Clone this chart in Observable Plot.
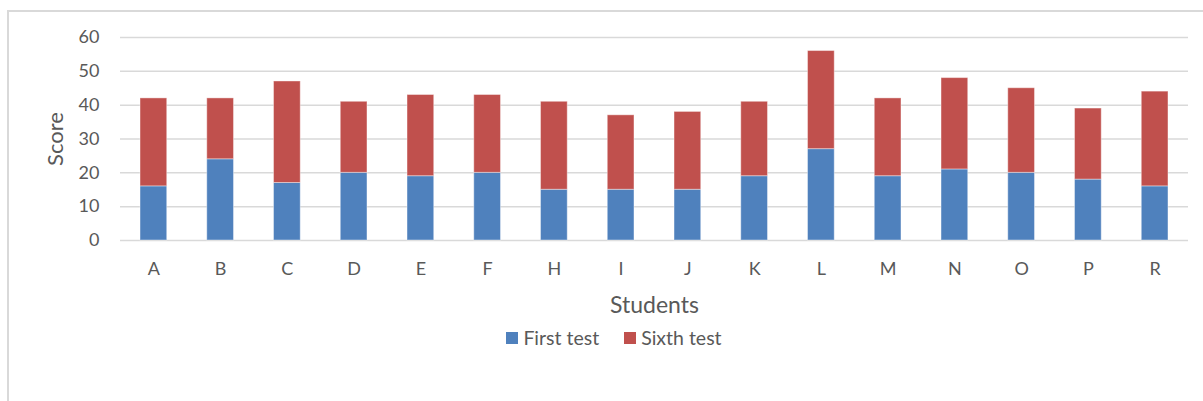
<!DOCTYPE html>
<html>
<head>
<meta charset="utf-8">
<script src="https://cdn.jsdelivr.net/npm/d3@7"></script>
<script src="https://cdn.jsdelivr.net/npm/@observablehq/plot@0.6"></script>
<style>
  html, body { margin: 0; padding: 0; background: #fff; overflow: hidden; }
  #wrap { position: relative; width: 1203px; height: 401px; }
  #frame { position: absolute; left: 7px; top: 10px; width: 1220px; height: 420px; border: 2px solid #d9d9d9; box-sizing: border-box; }
  #chart { position: absolute; left: 0; top: 0; }
  #legend { position: absolute; top: 326px; left: 0; width: 1203px; display: flex; justify-content: center; gap: 25px; font-family: Lato, "Open Sans", sans-serif; font-size: 19.5px; color: #595959; padding-left: 25px; box-sizing: border-box; }
  .item { display: flex; align-items: center; gap: 5px; }
  .sw { width: 12px; height: 12px; display: inline-block; }
</style>
</head>
<body>
<div id="wrap">
  <div id="frame"></div>
  <div id="chart"></div>
  <div id="legend"></div>
</div>
<script>
const students = ["A","B","C","D","E","F","H","I","J","K","L","M","N","O","P","R"];
const firstTest = [16,24,17,20,19,20,15,15,15,19,27,19,21,20,18,16];
const sixthTest = [26,18,30,21,24,23,26,22,23,22,29,23,27,25,21,28];
const seriesNames = ["First test","Sixth test"];
const seriesColors = ["#4F81BD","#C0504D"];
const yTicks = [0,10,20,30,40,50,60];

const rows = [];
students.forEach((s, i) => {
  rows.push({student: s, series: seriesNames[0], value: firstTest[i]});
  rows.push({student: s, series: seriesNames[1], value: sixthTest[i]});
});

const chart = Plot.plot({
  width: 1203,
  height: 401,
  marginLeft: 120,
  marginRight: 15,
  marginTop: 37,
  marginBottom: 161,
  style: { fontFamily: "Lato, 'Open Sans', sans-serif", color: "#595959", background: "transparent" },
  x: { domain: students, paddingInner: 0.6, paddingOuter: 0.3, round: false },
  y: { domain: [0, 60] },
  color: { domain: seriesNames, range: seriesColors },
  marks: [
    Plot.gridY(yTicks, { stroke: "#d9d9d9", strokeOpacity: 1, strokeWidth: 1.5 }),
    Plot.barY(rows, { x: "student", y: "value", fill: "series", stroke: "#ffffff", strokeOpacity: 0.4, strokeWidth: 1 }),
    Plot.axisY(yTicks, { tickSize: 0, tickPadding: 21, fontSize: 18, label: "Score", labelArrow: false, labelAnchor: "center", labelOffset: 73, color: "#595959" }),
    Plot.axisX({ tickSize: 0, tickPadding: 22, fontSize: 18, label: "Students", labelArrow: false, labelAnchor: "center", labelOffset: 72, color: "#595959" }),
  ]
});
chart.querySelectorAll("[aria-label='y-axis label'] text").forEach(t => t.setAttribute("font-size", "22"));
chart.querySelectorAll("[aria-label='x-axis label'] text").forEach(t => t.setAttribute("font-size", "23"));
document.getElementById("chart").appendChild(chart);

const legend = document.getElementById("legend");
seriesNames.forEach((n, i) => {
  const it = document.createElement("div");
  it.className = "item";
  it.innerHTML = `<span class="sw" style="background:${seriesColors[i]}"></span><span>${n}</span>`;
  legend.appendChild(it);
});
</script>
</body>
</html>
